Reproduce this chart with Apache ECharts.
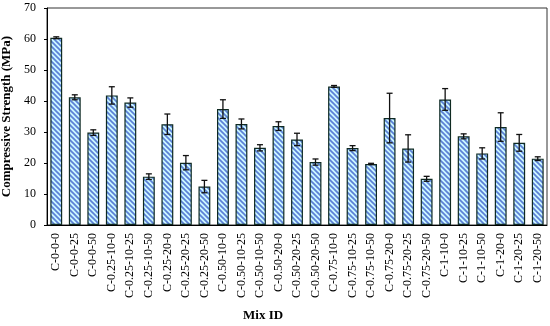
<!DOCTYPE html>
<html><head><meta charset="utf-8">
<script src="https://cdn.jsdelivr.net/npm/echarts@6/dist/echarts.min.js"></script>
<style>html,body{margin:0;padding:0;background:#fff}#c{width:550px;height:326px}</style>
</head><body><div id="c"></div>
<script>
var categories = ["C-0-0-0","C-0-0-25","C-0-0-50","C-0.25-10-0","C-0.25-10-25","C-0.25-10-50","C-0.25-20-0","C-0.25-20-25","C-0.25-20-50","C-0.50-10-0","C-0.50-10-25","C-0.50-10-50","C-0.50-20-0","C-0.50-20-25","C-0.50-20-50","C-0.75-10-0","C-0.75-10-25","C-0.75-10-50","C-0.75-20-0","C-0.75-20-25","C-0.75-20-50","C-1-10-0","C-1-10-25","C-1-10-50","C-1-20-0","C-1-20-25","C-1-20-50"];
var strength = [60.4,41.2,29.8,41.8,39.5,15.6,32.5,20.1,12.4,37.4,32.6,24.9,31.9,27.6,20.3,44.7,24.8,19.7,34.5,24.7,14.9,40.5,28.6,23.1,31.6,26.5,21.4];
var stdDev = [0.3,0.8,0.9,2.8,1.5,0.9,3.3,2.3,2.0,3.0,1.6,1.0,1.4,2.0,1.0,0.3,0.8,0.2,8.0,4.4,0.8,3.5,0.8,1.8,4.6,2.7,0.6];
var yTicks = [0,10,20,30,40,50,60,70];

function makePattern(){
  var s = 5;
  var cv = document.createElement('canvas');
  cv.width = s; cv.height = s;
  var ctx = cv.getContext('2d');
  ctx.fillStyle = '#ccf6ff';
  ctx.fillRect(0,0,s,s);
  ctx.strokeStyle = '#5b80d6';
  ctx.lineWidth = 1.7;
  [-s,0,s].forEach(function(o){
    ctx.beginPath();
    ctx.moveTo(o-1,-1);
    ctx.lineTo(o+s+1,s+1);
    ctx.stroke();
  });
  return cv;
}

var serif = '"Liberation Serif","Times New Roman",serif';
var chart = echarts.init(document.getElementById('c'));
var errData = strength.map(function(v,i){return [i, v - stdDev[i], v + stdDev[i]];});
chart.setOption({
  animation:false,
  grid:{left:47,right:3,top:8,bottom:101,show:true,borderColor:'#333',borderWidth:1,
        containLabel:false,outerBoundsMode:'none'},
  graphic:[{type:'text',left:243,top:309,
    style:{text:'Mix ID',font:'bold 13px '+serif,fill:'#000'}}],
  xAxis:{
    type:'category', data:categories,
    axisLine:{lineStyle:{color:'#000'}},
    axisTick:{show:false},
    axisLabel:{rotate:90,interval:0,fontFamily:serif,fontSize:12,color:'#000',margin:8}
  },
  yAxis:{
    type:'value', min:yTicks[0], max:yTicks[yTicks.length-1], interval:10,
    name:'Compressive Strength (MPa)', nameLocation:'middle', nameGap:33,
    nameTextStyle:{fontFamily:serif,fontWeight:'bold',fontSize:13,color:'#000'},
    axisLine:{show:true,lineStyle:{color:'#000'}},
    axisTick:{show:true,length:3,lineStyle:{color:'#000'}},
    splitLine:{show:false},
    axisLabel:{fontFamily:serif,fontSize:12,color:'#000',margin:11}
  },
  series:[
    {type:'bar', data:strength, barWidth:'64%',
     itemStyle:{color:{image:makePattern(),repeat:'repeat'},borderColor:'#0f2a22',borderWidth:1.2}},
    {type:'custom', data:errData, z:10,
     renderItem:function(params, api){
       var x = api.value(0);
       var lo = api.coord([x, api.value(1)]);
       var hi = api.coord([x, api.value(2)]);
       var w = 3;
       var st = {stroke:'#111',lineWidth:1.3};
       return {type:'group',children:[
         {type:'line',shape:{x1:lo[0],y1:lo[1],x2:hi[0],y2:hi[1]},style:st},
         {type:'line',shape:{x1:lo[0]-w,y1:lo[1],x2:lo[0]+w,y2:lo[1]},style:st},
         {type:'line',shape:{x1:hi[0]-w,y1:hi[1],x2:hi[0]+w,y2:hi[1]},style:st}
       ]};
     }}
  ]
});
</script></body></html>
